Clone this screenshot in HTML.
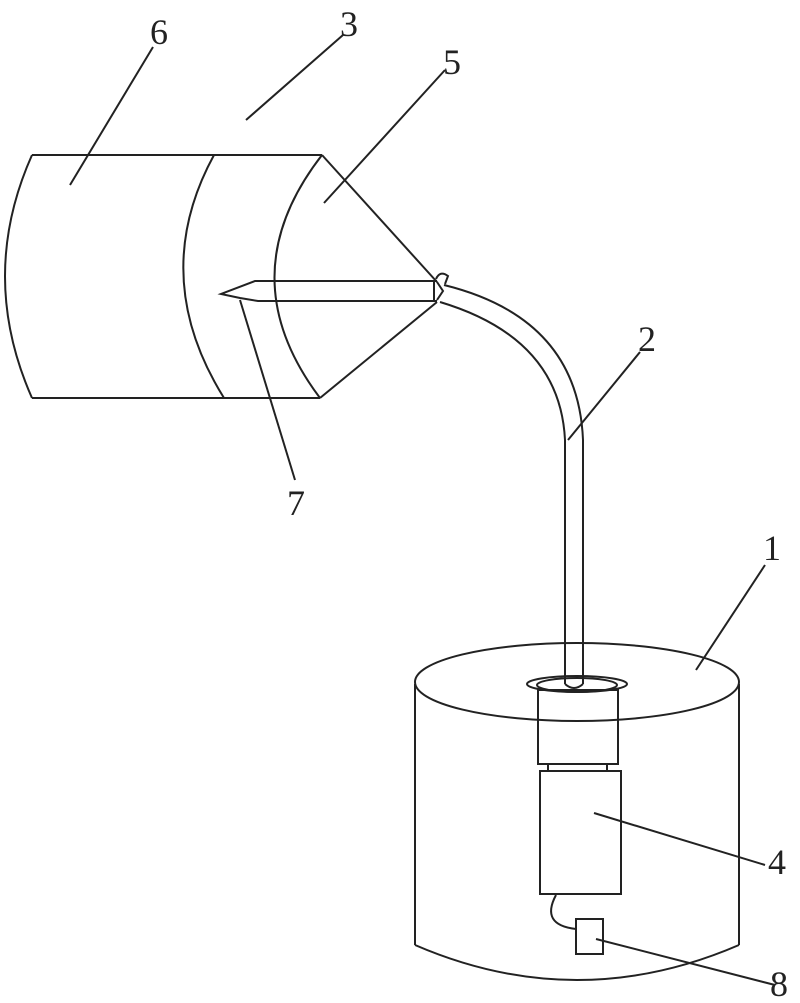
<!DOCTYPE html>
<html><head><style>
html,body{margin:0;padding:0;background:#fff;}
svg{display:block;}
text{font-family:"Liberation Serif",serif;font-size:36px;fill:#222;}
</style></head><body>
<svg width="800" height="1003" viewBox="0 0 800 1003" xmlns="http://www.w3.org/2000/svg">
<g fill="none" stroke="#222" stroke-width="2">
<line x1="32" y1="155" x2="322" y2="155"/>
<line x1="32" y1="398" x2="320" y2="398"/>
<path d="M32 155 Q-22 276 32 398"/>
<path d="M214 155 Q148 276 224 398"/>
<path d="M322 155 Q228 276 320 398"/>
<line x1="322" y1="155" x2="437" y2="282"/>
<line x1="320" y1="398" x2="437" y2="302"/>
<path d="M437 281 L255 281 L221 294 L240 298 L258 301 L437 301"/>
<path d="M434 280 L434 302 M437 282 L443 291 L437 300" />
<path d="M436 279 Q440 270 448 276 L445 284"/>
<path d="M444 285 Q578 318 583 440 L583 684"/>
<path d="M440 302 Q560 338 565 440 L565 684"/>
<line x1="70" y1="185" x2="153" y2="47"/>
<line x1="246" y1="120" x2="343" y2="35"/>
<line x1="324" y1="203" x2="445" y2="70"/>
<line x1="568" y1="440" x2="640" y2="352"/>
<line x1="240" y1="300" x2="295" y2="480"/>
<line x1="696" y1="670" x2="765" y2="565"/>
<line x1="594" y1="813" x2="765" y2="865"/>
<line x1="596" y1="939" x2="775" y2="985"/>
<ellipse cx="577" cy="682" rx="162" ry="39"/>
<line x1="415" y1="684" x2="415" y2="945"/>
<line x1="739" y1="684" x2="739" y2="945"/>
<path d="M415 945 Q577 1015 739 945"/>
<ellipse cx="577" cy="684" rx="50" ry="8"/>
<ellipse cx="577" cy="685" rx="40" ry="7"/>
<path d="M565 684 Q574 692 583 684"/>
<rect x="538" y="690" width="80" height="74"/>
<line x1="548" y1="764" x2="548" y2="771"/>
<line x1="607" y1="764" x2="607" y2="771"/>
<rect x="540" y="771" width="81" height="123"/>
<path d="M556 895 Q540 925 576 929"/>
<rect x="576" y="919" width="27" height="35"/>
</g>
<text x="150" y="44">6</text>
<text x="340" y="36">3</text>
<text x="443" y="74">5</text>
<text x="638" y="351">2</text>
<text x="287" y="515">7</text>
<text x="763" y="560">1</text>
<text x="768" y="874">4</text>
<text x="770" y="996">8</text>
</svg>
</body></html>
